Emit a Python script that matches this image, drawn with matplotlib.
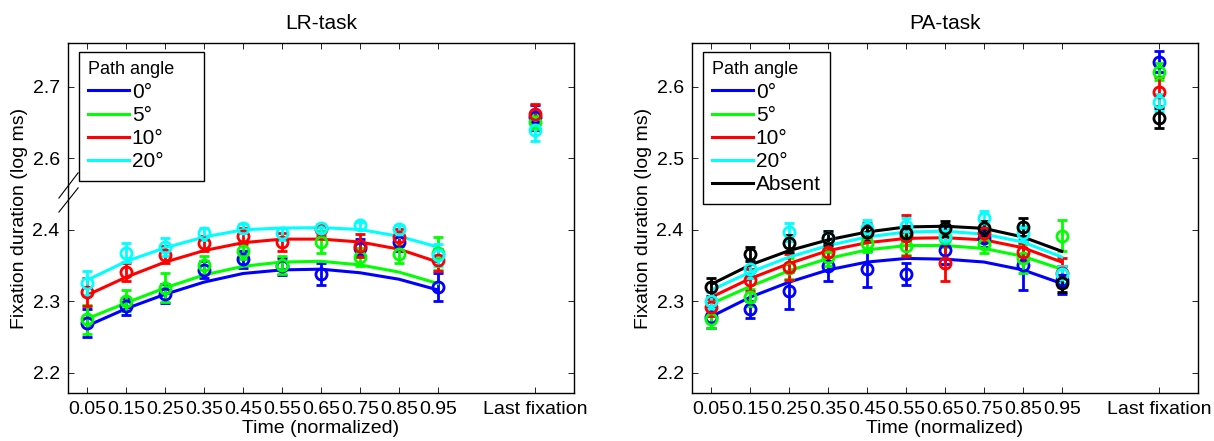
import matplotlib
matplotlib.use('Agg')
import matplotlib.pyplot as plt
import numpy as np

plt.rcParams['font.family'] = ['Liberation Sans', 'DejaVu Sans']

# time bins and "last fixation" position
t = [0.05, 0.15, 0.25, 0.35, 0.45, 0.55, 0.65, 0.75, 0.85, 0.95]
t_last = 1.2
xtick_labels = ['0.05', '0.15', '0.25', '0.35', '0.45', '0.55', '0.65', '0.75', '0.85', '0.95', 'Last fixation']

angle_labels = ['0°', '5°', '10°', '20°']
colors = ['#0000ff', '#00ff00', '#ff0000', '#00ffff']

# ---- LR-task ----
lr_mean = [
    [2.270, 2.293, 2.311, 2.344, 2.359, 2.349, 2.338, 2.375, 2.383, 2.320],
    [2.275, 2.301, 2.319, 2.351, 2.371, 2.351, 2.383, 2.362, 2.366, 2.367],
    [2.313, 2.341, 2.365, 2.381, 2.392, 2.383, 2.402, 2.378, 2.390, 2.358],
    [2.326, 2.368, 2.376, 2.396, 2.406, 2.396, 2.406, 2.413, 2.402, 2.365],
]
lr_err = [
    [0.020, 0.012, 0.013, 0.012, 0.012, 0.012, 0.015, 0.012, 0.012, 0.020],
    [0.020, 0.015, 0.020, 0.013, 0.012, 0.013, 0.015, 0.013, 0.013, 0.023],
    [0.020, 0.013, 0.012, 0.010, 0.012, 0.012, 0.010, 0.016, 0.012, 0.015],
    [0.017, 0.013, 0.012, 0.010, 0.010, 0.010, 0.010, 0.010, 0.012, 0.015],
]
lr_fit = [
    [2.266, 2.290, 2.310, 2.327, 2.339, 2.344, 2.345, 2.340, 2.331, 2.316],
    [2.276, 2.298, 2.319, 2.337, 2.349, 2.355, 2.356, 2.351, 2.341, 2.325],
    [2.309, 2.334, 2.355, 2.371, 2.382, 2.387, 2.387, 2.383, 2.373, 2.355],
    [2.330, 2.356, 2.375, 2.390, 2.400, 2.405, 2.406, 2.401, 2.391, 2.376],
]
lr_last = [2.657, 2.651, 2.662, 2.640]
lr_last_err = [0.017, 0.010, 0.014, 0.016]

# ---- PA-task ----
pa_labels = angle_labels + ['Absent']
pa_colors = colors + ['#000000']
pa_mean = [
    [2.278, 2.289, 2.315, 2.350, 2.345, 2.338, 2.372, 2.388, 2.351, 2.330],
    [2.275, 2.306, 2.346, 2.362, 2.381, 2.378, 2.388, 2.380, 2.360, 2.392],
    [2.292, 2.330, 2.348, 2.369, 2.397, 2.392, 2.353, 2.395, 2.369, 2.340],
    [2.301, 2.345, 2.397, 2.388, 2.402, 2.406, 2.391, 2.416, 2.395, 2.338],
    [2.320, 2.366, 2.381, 2.389, 2.397, 2.395, 2.402, 2.402, 2.404, 2.325],
]
pa_err = [
    [0.015, 0.012, 0.026, 0.022, 0.025, 0.015, 0.020, 0.012, 0.035, 0.020],
    [0.012, 0.012, 0.015, 0.012, 0.012, 0.013, 0.012, 0.012, 0.020, 0.022],
    [0.012, 0.015, 0.018, 0.012, 0.012, 0.028, 0.025, 0.012, 0.013, 0.020],
    [0.012, 0.012, 0.012, 0.010, 0.012, 0.010, 0.010, 0.010, 0.010, 0.012],
    [0.012, 0.010, 0.012, 0.010, 0.010, 0.010, 0.010, 0.010, 0.012, 0.012],
]
pa_fit = [
    [2.279, 2.306, 2.327, 2.344, 2.355, 2.360, 2.359, 2.355, 2.344, 2.325],
    [2.297, 2.321, 2.343, 2.360, 2.372, 2.378, 2.378, 2.374, 2.363, 2.345],
    [2.306, 2.332, 2.353, 2.371, 2.382, 2.388, 2.389, 2.386, 2.375, 2.355],
    [2.316, 2.341, 2.362, 2.378, 2.390, 2.397, 2.398, 2.394, 2.383, 2.362],
    [2.324, 2.351, 2.371, 2.386, 2.397, 2.404, 2.405, 2.402, 2.390, 2.370],
]
pa_last = [2.635, 2.621, 2.593, 2.578, 2.556]
pa_last_err = [0.015, 0.012, 0.020, 0.012, 0.014]


# broken y axis for LR: 2.4..2.6 squeezed into one tick step
def fwd(y):
    y = np.asarray(y, dtype=float)
    return np.where(y <= 2.4, y, np.where(y >= 2.6, y - 0.1, 2.4 + (y - 2.4) * 0.5))


def inv(d):
    d = np.asarray(d, dtype=float)
    return np.where(d <= 2.4, d, np.where(d >= 2.5, d + 0.1, 2.4 + (d - 2.4) * 2.0))


fig = plt.figure(figsize=(12.14, 4.41), dpi=100)
ax1 = fig.add_axes([68 / 1214, 48 / 441, 506 / 1214, 350 / 441])
ax2 = fig.add_axes([692 / 1214, 48 / 441, 506 / 1214, 350 / 441])


def draw(ax, means, errs, fits, last, last_err, labels, cols):
    for m, e, f, lm, le, lab, c in zip(means, errs, fits, last, last_err, labels, cols):
        ax.errorbar(t + [t_last], m + [lm], yerr=e + [le], fmt='o', color=c, mfc='none',
                    mew=2, ms=8, elinewidth=2, capsize=3.5, capthick=2)
        ax.plot(t, f, '-', color=c, lw=2.2, label=lab)
    ax.set_xlim(0, 1.3)
    ax.set_xticks(t + [t_last])
    ax.set_xticklabels(xtick_labels)
    ax.tick_params(direction='in', top=True, right=True, length=4, width=0.6,
                   labelsize=14, pad=6)
    for s in ax.spines.values():
        s.set_linewidth(1)
    ax.set_xlabel('Time (normalized)', fontsize=14, labelpad=1)
    ax.set_ylabel('Fixation duration (log ms)', fontsize=14, labelpad=3)
    leg = ax.legend(loc='upper left', bbox_to_anchor=(0.021, 0.974), title='Path angle    ',
                    fontsize=15, title_fontsize=13, frameon=True, fancybox=False,
                    framealpha=1, edgecolor='black', handlelength=1.95, handletextpad=0.15,
                    labelspacing=0.2, borderpad=0.45, borderaxespad=0, alignment='left')
    leg.get_frame().set_linewidth(1)


draw(ax1, lr_mean, lr_err, lr_fit, lr_last, lr_last_err, angle_labels, colors)
ax1.set_yscale('function', functions=(fwd, inv))
ax1.set_ylim(2.172, 2.761)
ax1.set_yticks([2.2, 2.3, 2.4, 2.6, 2.7])
ax1.set_yticklabels(['2.2', '2.3', '2.4', '2.6', '2.7'])
ax1.set_title('LR-task', fontsize=15, pad=10)
# break marks on the y axis
for y0, y1 in [(0.557, 0.629), (0.517, 0.586)]:
    ax1.plot([-0.018, 0.020], [y0, y1], color='black', lw=0.8,
             transform=ax1.transAxes, clip_on=False)

draw(ax2, pa_mean, pa_err, pa_fit, pa_last, pa_last_err, pa_labels, pa_colors)
ax2.set_ylim(2.172, 2.661)
ax2.set_yticks([2.2, 2.3, 2.4, 2.5, 2.6])
ax2.set_yticklabels(['2.2', '2.3', '2.4', '2.5', '2.6'])
ax2.set_title('PA-task', fontsize=15, pad=10)

fig.savefig('out.png', dpi=100)
